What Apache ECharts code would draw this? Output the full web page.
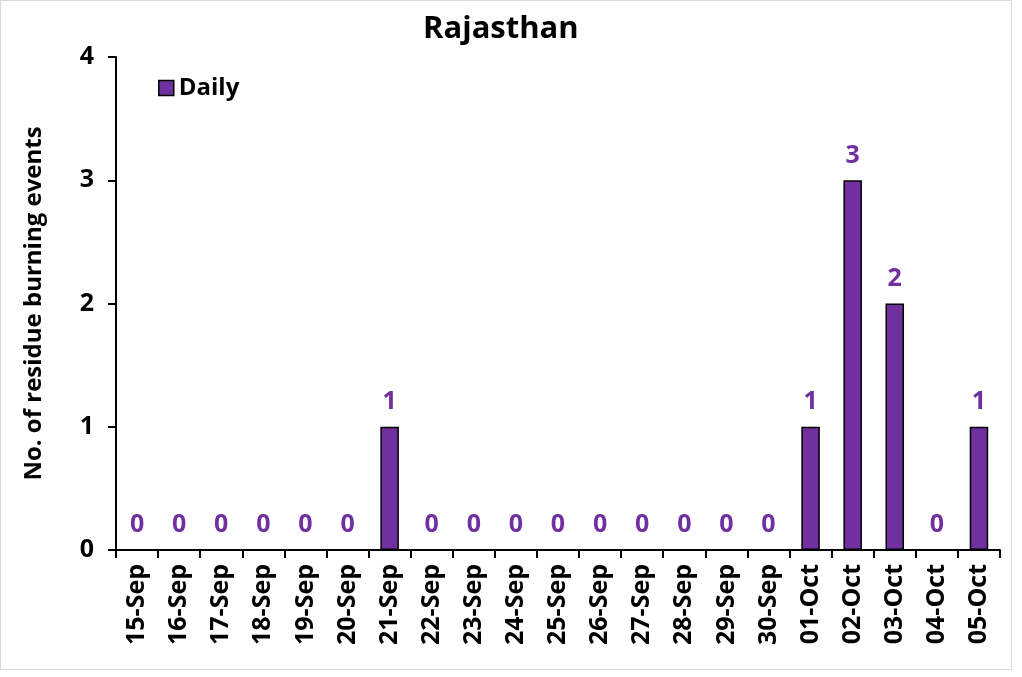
<!DOCTYPE html>
<html>
<head>
<meta charset="utf-8">
<script src="https://cdn.jsdelivr.net/npm/echarts@6/dist/echarts.min.js"></script>
<style>
  html, body { margin: 0; padding: 0; background: #fff; }
  #frame {
    position: absolute; left: 0; top: 0;
    width: 1012px; height: 670px;
    border: 1px solid #d9d9d9; box-sizing: border-box;
  }
  #chart { position: absolute; left: 0; top: 0; width: 1022px; height: 677px; }
</style>
</head>
<body>
<div id="frame"></div>
<div id="chart"></div>
<script>
// days on x axis
const days = ['15-Sep', '16-Sep', '17-Sep', '18-Sep', '19-Sep', '20-Sep', '21-Sep',
  '22-Sep', '23-Sep', '24-Sep', '25-Sep', '26-Sep', '27-Sep', '28-Sep', '29-Sep',
  '30-Sep', '01-Oct', '02-Oct', '03-Oct', '04-Oct', '05-Oct'];
// daily residue burning events
const daily = [0, 0, 0, 0, 0, 0, 1, 0, 0, 0, 0, 0, 0, 0, 0, 0, 1, 3, 2, 0, 1];
const yTicks = [0, 1, 2, 3, 4];

const font = '"Open Sans", sans-serif';
const myChart = echarts.init(document.getElementById('chart'));

const option = {
  animation: false,
  textStyle: { fontFamily: font },
  title: {
    text: 'Rajasthan',
    left: 418,
    top: 9,
    textStyle: { fontFamily: font, fontSize: 31, fontWeight: 'bold', color: '#000' }
  },
  legend: {
    left: 153,
    top: 71,
    icon: 'rect',
    itemWidth: 15,
    itemHeight: 15,
    itemGap: 6,
    textStyle: { fontFamily: font, fontSize: 24, fontWeight: 'bold', color: '#000' },
    data: [{ name: 'Daily', itemStyle: { borderColor: '#000', borderWidth: 1.5 } }]
  },
  grid: { left: 116, right: 22, top: 57, bottom: 127 },
  xAxis: {
    type: 'category',
    data: days,
    axisLine: { lineStyle: { color: '#000', width: 2 } },
    axisTick: { show: true, length: 8, lineStyle: { color: '#000', width: 2 } },
    axisLabel: {
      rotate: 90, margin: 14, color: '#000',
      fontFamily: font, fontSize: 25, fontWeight: 'bold'
    }
  },
  yAxis: {
    type: 'value',
    min: yTicks[0],
    max: yTicks[yTicks.length - 1],
    interval: 1,
    name: 'No. of residue burning events',
    nameLocation: 'middle',
    nameGap: 70,
    nameTextStyle: { fontFamily: font, fontSize: 24, fontWeight: 'bold', color: '#000' },
    splitLine: { show: false },
    axisLine: { show: true, lineStyle: { color: '#000', width: 2 } },
    axisTick: { show: true, length: 8, lineStyle: { color: '#000', width: 2 } },
    axisLabel: { margin: 22, color: '#000', fontFamily: font, fontSize: 25, fontWeight: 'bold' }
  },
  series: [{
    name: 'Daily',
    type: 'bar',
    data: daily,
    barWidth: '44%',
    itemStyle: { color: '#7030A0', borderColor: '#000', borderWidth: 1.5 },
    label: {
      show: true,
      position: 'top',
      distance: 12,
      color: '#7030A0',
      fontFamily: font,
      fontSize: 25,
      fontWeight: 'bold'
    }
  }]
};

myChart.setOption(option);
</script>
</body>
</html>
